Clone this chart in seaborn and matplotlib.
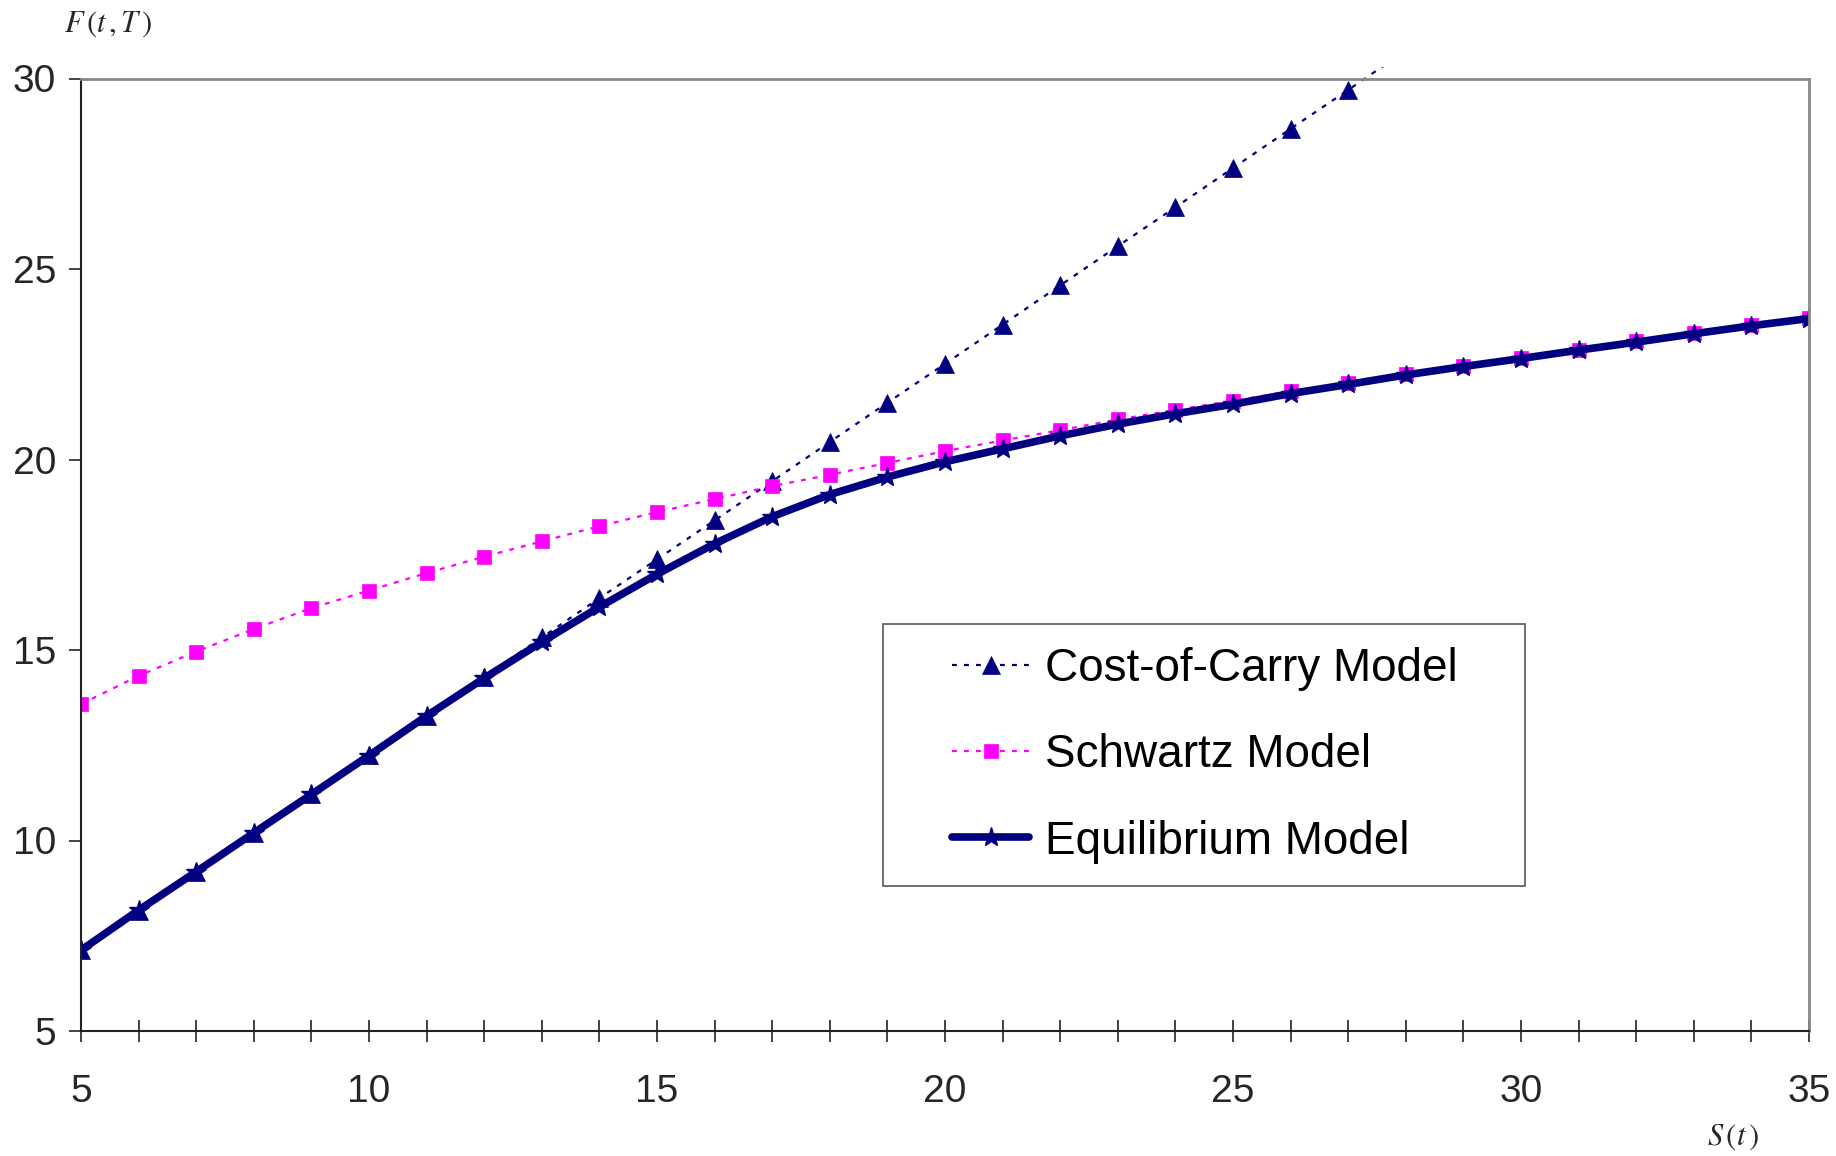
import matplotlib
matplotlib.use("Agg")
import matplotlib.pyplot as plt
import seaborn as sns
import pandas as pd
from matplotlib.patches import Rectangle
from matplotlib.legend_handler import HandlerLine2D
from matplotlib.lines import Line2D

# ---- data ----
spot = list(range(5, 36))
cost_of_carry_x = list(range(5, 29))
cost_of_carry = [7.12, 8.15, 9.17, 10.20, 11.23, 12.25, 13.28, 14.30, 15.33, 16.36,
                 17.38, 18.40, 19.43, 20.46, 21.49, 22.51, 23.54, 24.57, 25.60, 26.62,
                 27.65, 28.68, 29.70, 30.73]
schwartz = [13.58, 14.32, 14.96, 15.55, 16.10, 16.56, 17.02, 17.45, 17.85, 18.25,
            18.62, 18.96, 19.30, 19.60, 19.91, 20.22, 20.50, 20.77, 21.05, 21.30,
            21.54, 21.79, 22.00, 22.25, 22.46, 22.67, 22.88, 23.10, 23.31, 23.52, 23.72]
equilibrium = [7.12, 8.17, 9.18, 10.20, 11.21, 12.23, 13.27, 14.26, 15.21, 16.13,
               16.99, 17.79, 18.50, 19.08, 19.54, 19.94, 20.28, 20.62, 20.93, 21.20,
               21.45, 21.73, 21.97, 22.22, 22.44, 22.65, 22.87, 23.08, 23.30, 23.51, 23.70]
series_names = ["Cost-of-Carry Model", "Schwartz Model", "Equilibrium Model"]
x_ticks = [5, 10, 15, 20, 25, 30, 35]
y_ticks = [5, 10, 15, 20, 25, 30]

sns.set_theme(style="white")
plt.rcParams["font.family"] = ["Liberation Sans", "DejaVu Sans"]
plt.rcParams["mathtext.fontset"] = "stix"

fig = plt.figure(figsize=(18.36, 11.56), dpi=100)
ax = fig.add_axes([81 / 1836, 1 - 1031 / 1156, (1809 - 81) / 1836, (1031 - 78.5) / 1156])

navy = "#000080"
magenta = "#FF00FF"

df_c = pd.DataFrame({"S": cost_of_carry_x, "F": cost_of_carry})
df_s = pd.DataFrame({"S": spot, "F": schwartz})
df_e = pd.DataFrame({"S": spot, "F": equilibrium})

sns.lineplot(data=df_c, x="S", y="F", ax=ax, color=navy, lw=1.6,
             marker="^", markersize=13, markeredgecolor=navy, markeredgewidth=0.5,
             label=series_names[0])
sns.lineplot(data=df_s, x="S", y="F", ax=ax, color=magenta, lw=1.6,
             marker="s", markersize=10, markeredgecolor=magenta, markeredgewidth=0.5,
             label=series_names[1])
sns.lineplot(data=df_e, x="S", y="F", ax=ax, color=navy, lw=5.5,
             marker="*", markersize=15, markeredgecolor=navy, markeredgewidth=1.0,
             label=series_names[2])

lines = ax.get_lines()
lines[0].set_linestyle((0, (2.2, 3.2)))
lines[1].set_linestyle((0, (2.2, 3.2)))
clip = Rectangle((0, 0), 1, 1.012, transform=ax.transAxes, facecolor="none", edgecolor="none")
ax.add_patch(clip)
lines[0].set_clip_path(clip)

ax.set_xlim(5, 35)
ax.set_ylim(5, 30)
ax.set_xticks(x_ticks)
ax.set_xticks(spot, minor=True)
ax.set_yticks(y_ticks)
ax.set_xlabel("")
ax.set_ylabel("")

ax.tick_params(axis="x", which="both", direction="inout", length=16, width=1.2,
               color="#222222", bottom=True, pad=23, labelsize=28)
ax.tick_params(axis="y", which="major", direction="out", length=9, width=1.2,
               color="#222222", left=True, pad=9, labelsize=28)

for side in ["left", "bottom"]:
    ax.spines[side].set_color("#222222")
    ax.spines[side].set_linewidth(1.5)
for side in ["top", "right"]:
    ax.spines[side].set_color("#888888")
    ax.spines[side].set_linewidth(2)

handles, labels = ax.get_legend_handles_labels()
hmap = {h: HandlerLine2D(xpad=1.0) for h in handles}
leg = ax.legend(handles, labels, handler_map=hmap,
                loc="upper left", bbox_to_anchor=(0.464, 0.158, 0.3715, 0.269),
                mode="expand", fontsize=33,
                frameon=True, fancybox=False, framealpha=1, edgecolor="#555555",
                handlelength=2.7, handletextpad=0.33, labelspacing=0.92,
                borderpad=0.5, borderaxespad=0)
leg.get_frame().set_linewidth(1.2)
for t in leg.get_texts():
    t.set_color("black")

fig.text(108 / 1836, 1 - 24 / 1156, r"$F\,(t\,,T\,)$", fontsize=22, ha="center", va="center")
fig.text(1733 / 1836, 1 - 1137 / 1156, r"$S\,(t\,)$", fontsize=22, ha="center", va="center")

fig.savefig("out.png", dpi=100)
